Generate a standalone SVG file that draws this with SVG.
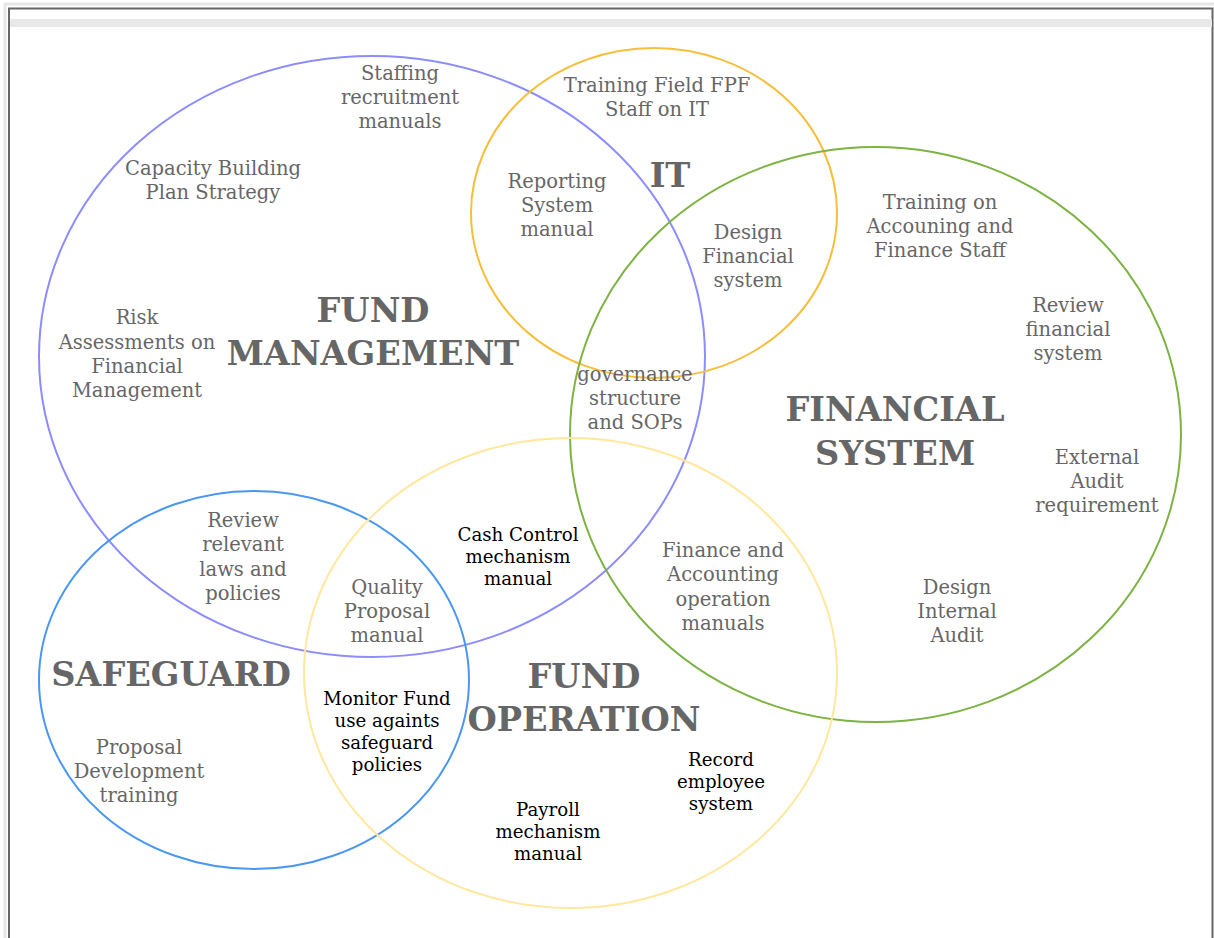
<svg xmlns="http://www.w3.org/2000/svg" width="1214" height="938" viewBox="0 0 1214 938">
<style>
.c{fill:none;stroke-width:2}
text{font-family:"DejaVu Serif","Liberation Serif",serif;text-anchor:middle}
.l{font-size:19.5px;fill:#666}
.k{font-size:18.2px;fill:#000}
.t{font-size:33.6px;font-weight:bold;fill:#666}
</style>
<rect x="0" y="0" width="1214" height="938" fill="#fff"/>
<g id="frame">
<rect x="5" y="4" width="1212" height="940" fill="none" stroke="#e6e6e6" stroke-width="3"/>
<rect x="9" y="8.5" width="1203.5" height="935" fill="none" stroke="#666" stroke-width="2"/>
<rect x="10" y="19" width="1202" height="8" fill="#e8e8e8"/>
</g>
<g id="circles">
<g id="fund-management-circle"><ellipse class="c" cx="372" cy="356.5" rx="333" ry="300.5" stroke="#8c8cff"/></g>
<g id="it-circle"><ellipse class="c" cx="654" cy="213" rx="183" ry="165" stroke="#f6bf3a"/></g>
<g id="financial-system-circle"><ellipse class="c" cx="875.5" cy="434.5" rx="305.5" ry="287.5" stroke="#7cb342"/></g>
<g id="safeguard-circle"><ellipse class="c" cx="254" cy="680" rx="215" ry="189" stroke="#4a97f2"/></g>
<g id="fund-operation-circle"><ellipse class="c" cx="570.5" cy="673" rx="266.5" ry="235" stroke="#ffe89e"/></g>
</g>
<g id="connectors"></g>
<g id="titles">
<text class="t" x="373" y="322">FUND</text>
<text class="t" x="373" y="365">MANAGEMENT</text>
<text class="t" x="670" y="187">IT</text>
<text class="t" x="895" y="421">FINANCIAL</text>
<text class="t" x="895" y="465">SYSTEM</text>
<text class="t" x="171" y="686">SAFEGUARD</text>
<text class="t" x="584" y="688">FUND</text>
<text class="t" x="584" y="731">OPERATION</text>
</g>
<g id="staffing"><text class="l" x="400" y="80">Staffing</text><text class="l" x="400" y="104">recruitment</text><text class="l" x="400" y="128">manuals</text></g>
<g id="training-field"><text class="l" x="657" y="92">Training Field FPF</text><text class="l" x="657" y="116">Staff on IT</text></g>
<g id="capacity"><text class="l" x="213" y="175">Capacity Building</text><text class="l" x="213" y="199">Plan Strategy</text></g>
<g id="reporting"><text class="l" x="557" y="188">Reporting</text><text class="l" x="557" y="212">System</text><text class="l" x="557" y="236">manual</text></g>
<g id="design-financial"><text class="l" x="748" y="239">Design</text><text class="l" x="748" y="263">Financial</text><text class="l" x="748" y="287">system</text></g>
<g id="training-accounting"><text class="l" x="940" y="209">Training on</text><text class="l" x="940" y="233">Accouning and</text><text class="l" x="940" y="257">Finance Staff</text></g>
<g id="review-financial"><text class="l" x="1068" y="312">Review</text><text class="l" x="1068" y="336">financial</text><text class="l" x="1068" y="360">system</text></g>
<g id="risk"><text class="l" x="137" y="324">Risk</text><text class="l" x="137" y="349">Assessments on</text><text class="l" x="137" y="373">Financial</text><text class="l" x="137" y="397">Management</text></g>
<g id="governance"><text class="l" x="635" y="381">governance</text><text class="l" x="635" y="405">structure</text><text class="l" x="635" y="429">and SOPs</text></g>
<g id="external-audit"><text class="l" x="1097" y="464">External</text><text class="l" x="1097" y="488">Audit</text><text class="l" x="1097" y="512">requirement</text></g>
<g id="review-laws"><text class="l" x="243" y="527">Review</text><text class="l" x="243" y="551">relevant</text><text class="l" x="243" y="576">laws and</text><text class="l" x="243" y="600">policies</text></g>
<g id="cash-control"><text class="k" x="518" y="541">Cash Control</text><text class="k" x="518" y="563">mechanism</text><text class="k" x="518" y="585">manual</text></g>
<g id="finance-accounting"><text class="l" x="723" y="557">Finance and</text><text class="l" x="723" y="581">Accounting</text><text class="l" x="723" y="606">operation</text><text class="l" x="723" y="630">manuals</text></g>
<g id="quality-proposal"><text class="l" x="387" y="594">Quality</text><text class="l" x="387" y="618">Proposal</text><text class="l" x="387" y="642">manual</text></g>
<g id="design-internal"><text class="l" x="957" y="594">Design</text><text class="l" x="957" y="618">Internal</text><text class="l" x="957" y="642">Audit</text></g>
<g id="monitor-fund"><text class="k" x="387" y="705">Monitor Fund</text><text class="k" x="387" y="727">use againts</text><text class="k" x="387" y="749">safeguard</text><text class="k" x="387" y="771">policies</text></g>
<g id="proposal-dev"><text class="l" x="139" y="754">Proposal</text><text class="l" x="139" y="778">Development</text><text class="l" x="139" y="802">training</text></g>
<g id="record-employee"><text class="k" x="721" y="766">Record</text><text class="k" x="721" y="788">employee</text><text class="k" x="721" y="810">system</text></g>
<g id="payroll"><text class="k" x="548" y="816">Payroll</text><text class="k" x="548" y="838">mechanism</text><text class="k" x="548" y="860">manual</text></g>
</svg>
